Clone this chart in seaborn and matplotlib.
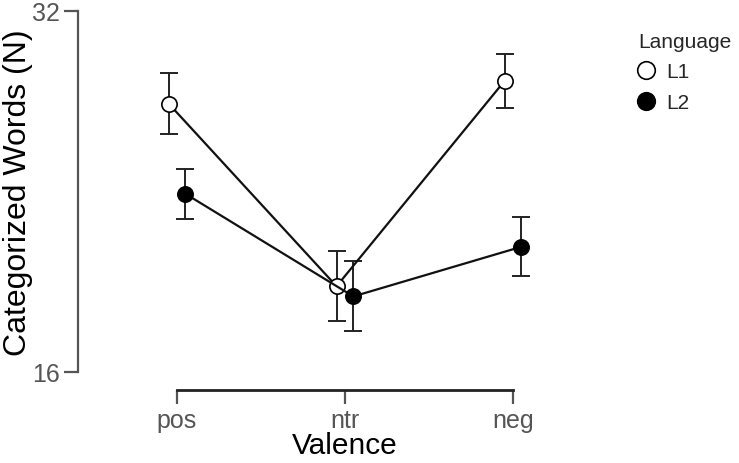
import matplotlib.pyplot as plt
import numpy as np
import pandas as pd
import seaborn as sns

valence = ['pos', 'ntr', 'neg']
languages = ['L1', 'L2']
means_l1 = [27.9, 19.8, 28.9]
means_l2 = [23.9, 19.35, 21.55]
err_l1 = [1.35, 1.55, 1.2]
err_l2 = [1.1, 1.55, 1.3]

df = pd.DataFrame({
    'Valence': valence * 2,
    'Language': ['L1'] * 3 + ['L2'] * 3,
    'mean': means_l1 + means_l2,
    'err': err_l1 + err_l2,
})

sns.set_style('white')
plt.rcParams['font.family'] = ['Liberation Sans', 'DejaVu Sans']

fig = plt.figure(figsize=(7.39, 4.64), dpi=100)
ax = fig.add_axes([78 / 739, 1 - 373 / 464, (560 - 78) / 739, (373 - 12) / 464])

face = {'L1': 'white', 'L2': 'black'}
shift = {'L1': -0.05, 'L2': 0.05}
for lang in languages:
    d = df[df['Language'] == lang]
    xs = np.arange(len(valence)) + shift[lang]
    ax.errorbar(xs, d['mean'], yerr=d['err'], fmt='none', ecolor='#222222',
                elinewidth=1.4, capsize=6.5, capthick=1.4, clip_on=False, zorder=2)
    sns.lineplot(x=xs, y=d['mean'].values, ax=ax, color='#111111', lw=1.6,
                 marker='o', markersize=11, markerfacecolor=face[lang],
                 markeredgecolor='black', markeredgewidth=1.2, label=lang,
                 clip_on=False, zorder=3)

ax.set_xlim(-0.589, 2.28)
ax.set_ylim(16, 32)
ax.set_yticks([16, 32])
ax.set_xticks([0, 1, 2])
ax.set_xticklabels(valence)

for s in ['top', 'right']:
    ax.spines[s].set_visible(False)
ax.spines['left'].set_bounds(16, 32)
ax.spines['left'].set_color('#555555')
ax.spines['left'].set_linewidth(1.6)
ax.spines['bottom'].set_bounds(0, 2)
ax.spines['bottom'].set_position(('outward', 13))
ax.spines['bottom'].set_color('#222222')
ax.spines['bottom'].set_linewidth(2)
ax.tick_params(axis='y', length=10, width=1.6, color='#555555', labelsize=18,
               labelcolor='#555555', pad=3, left=True)
ax.tick_params(axis='x', length=10, width=1.6, color='#555555', labelsize=18,
               labelcolor='#555555', pad=3, bottom=True)

ax.set_ylabel('Categorized Words (N)', fontsize=23, color='black')
ax.yaxis.set_label_coords((33 - 78) / 482, 0.5)
ax.set_xlabel('Valence', fontsize=21.5, labelpad=0, color='black')
ax.xaxis.set_label_coords((345 - 78) / 482, -(432 - 373) / 361)

leg = ax.legend(title='Language', loc='upper left', bbox_to_anchor=(638 / 739, 1 - 33 / 464),
                bbox_transform=fig.transFigure, frameon=False, fontsize=15,
                title_fontsize=15, handlelength=0.75, handletextpad=0.6,
                labelspacing=0.55, borderaxespad=0, borderpad=0, markerscale=1.15)
leg._legend_box.align = 'left'
for h in leg.legend_handles:
    h.set_linestyle('none')

fig.savefig('out.png', dpi=100)
